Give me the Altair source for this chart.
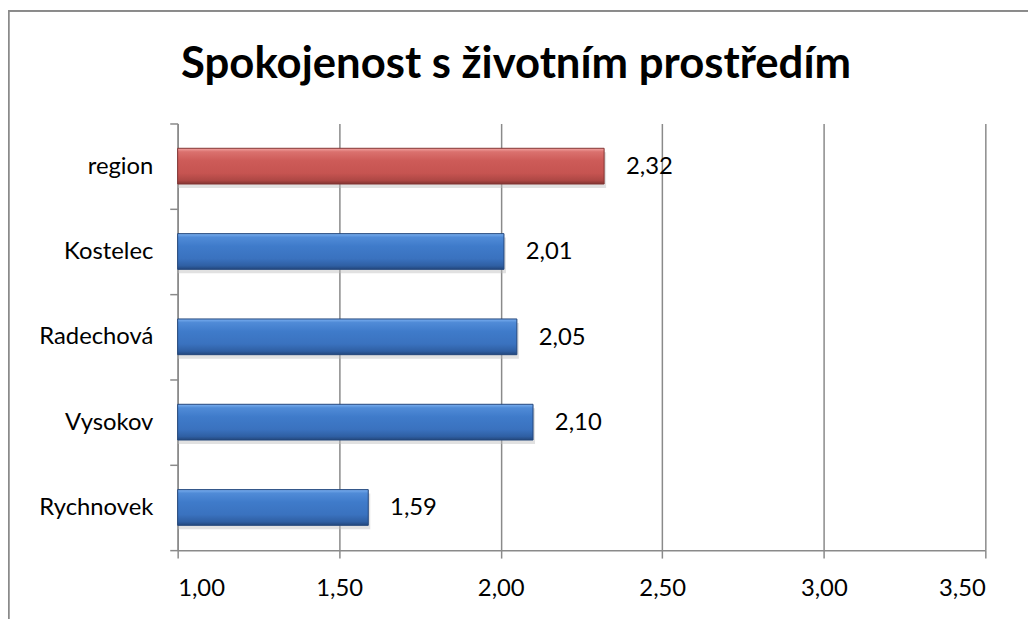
import altair as alt
import pandas as pd

# ---- data ----
categories = ["region", "Kostelec", "Radechová", "Vysokov", "Rychnovek"]
values = [2.32, 2.01, 2.05, 2.10, 1.59]
highlight = [True, False, False, False, False]
x_ticks = [1.0, 1.5, 2.0, 2.5, 3.0, 3.5]
x_min, x_max = 1.0, 3.5
title_text = "Spokojenost s životním prostředím"

df = pd.DataFrame({"cat": categories, "val": values, "hl": highlight})

FONT = "Lato"
GRID = "#8a8a8a"


def grad(stops):
    return alt.Gradient(
        gradient="linear", x1=0, y1=0, x2=0, y2=1,
        stops=[alt.GradientStop(color=c, offset=o) for o, c in stops],
    )


blue_grad = grad([(0, "#7cb0f0"), (0.1, "#508bd7"), (0.35, "#3f7bca"),
                  (0.7, "#3a72bf"), (0.9, "#2f5fa3"), (1, "#23477c")])
red_grad = grad([(0, "#f2a4a2"), (0.1, "#da716e"), (0.35, "#cd5b58"),
                 (0.7, "#c65451"), (0.9, "#ad4744"), (1, "#823432")])

y_enc = alt.Y(
    "cat:N", sort=categories, title=None,
    scale=alt.Scale(paddingInner=0, paddingOuter=0),
    axis=alt.Axis(
        tickBand="extent", grid=False, domain=True, domainColor=GRID, domainWidth=1.5,
        ticks=True, tickColor=GRID, tickWidth=1.5, tickSize=8,
        labelFont=FONT, labelFontSize=24, labelColor="#000000", labelPadding=17,
    ),
)
x_enc = alt.X(
    "val:Q", title=None,
    scale=alt.Scale(domain=[x_min, x_max], zero=False, nice=False),
    axis=alt.Axis(
        values=x_ticks, grid=True, gridColor=GRID, gridWidth=1.5,
        domain=True, domainColor=GRID, domainWidth=1.5,
        ticks=True, tickColor=GRID, tickWidth=1.5, tickSize=8,
        labelFont=FONT, labelFontSize=24, labelColor="#000000", labelPadding=19,
        labelExpr="replace(format(datum.value, '.2f'), '.', ',')",
    ),
)

base = alt.Chart(df)

shadow = base.mark_bar(
    size=36, color="#bdbdbd", opacity=0.45, yOffset=4, xOffset=2
).encode(x=x_enc, x2=alt.datum(x_min), y=y_enc)

blue_bars = base.transform_filter("!datum.hl").mark_bar(
    size=36, color=blue_grad, stroke="#23477c", strokeWidth=1
).encode(x=x_enc, x2=alt.datum(x_min), y=y_enc)

red_bars = base.transform_filter("datum.hl").mark_bar(
    size=36, color=red_grad, stroke="#823432", strokeWidth=1
).encode(x=x_enc, x2=alt.datum(x_min), y=y_enc)

labels = base.transform_calculate(
    lab="replace(format(datum.val, '.2f'), '.', ',')"
).mark_text(
    align="left", baseline="middle", dx=22, dy=1, font=FONT, fontSize=24, color="#000000"
).encode(x=x_enc, y=y_enc, text="lab:N")

title = alt.Chart(pd.DataFrame({"t": [title_text]})).mark_text(
    align="center", baseline="alphabetic", font=FONT, fontSize=44, fontWeight="bold",
    color="#000000"
).encode(x=alt.value(341), y=alt.value(-46), text="t:N")

frame_v = base.mark_rule(color="#8a8a8a", strokeWidth=1.5).encode(
    x=alt.value(-170.5), y=alt.value(-113.5), y2=alt.value(800)
)
frame_h = base.mark_rule(color="#8a8a8a", strokeWidth=1.5).encode(
    x=alt.value(-170.5), x2=alt.value(1200), y=alt.value(-113.5)
)

chart = alt.layer(shadow, blue_bars, red_bars, labels, title, frame_v, frame_h).properties(
    width=814,
    height=430,
    autosize=alt.AutoSizeParams(type="none"),
    padding={"left": 171, "top": 114, "right": 43, "bottom": 67},
).configure_view(stroke=None)

chart.save("out.html", embed_options={"renderer": "svg", "actions": False})
